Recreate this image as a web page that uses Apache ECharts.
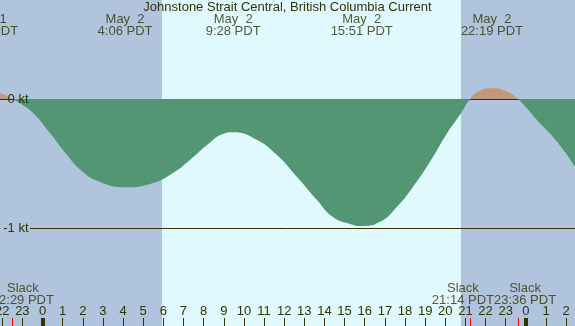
<!DOCTYPE html>
<html>
<head>
<meta charset="utf-8">
<script src="https://cdn.jsdelivr.net/npm/echarts@6/dist/echarts.min.js"></script>
<style>
html,body{margin:0;padding:0;background:#e0f8ff;}
#c{width:575px;height:326px;}
</style>
</head>
<body>
<div id="c"></div>
<script>
// ---- data (hours from May 2 00:00 PDT, current in knots) ----
const hours  = [-3.52, -2.75, -2.11, -1.50, -1.12, -0.47, 0.37, 1.22, 2.01, 2.86, 4.10, 5.34, 6.48, 7.32, 8.17, 8.96, 9.47, 10.65, 11.64, 12.64, 13.63, 14.42, 15.27, 15.85, 16.76, 17.60, 18.39, 19.24, 20.08, 20.78, 21.23, 21.72, 22.32, 22.96, 23.60, 24.08, 24.55, 25.55, 26.44];
const speeds = [0, 0.065, 0.046, 0, -0.033, -0.108, -0.263, -0.433, -0.565, -0.642, -0.683, -0.657, -0.572, -0.472, -0.356, -0.271, -0.258, -0.317, -0.433, -0.603, -0.781, -0.912, -0.966, -0.982, -0.95, -0.833, -0.68, -0.485, -0.266, -0.110, 0, 0.064, 0.083, 0.064, 0, -0.078, -0.162, -0.330, -0.523];

const eventTimes = [-2.75, 4.1, 9.4667, 15.85, 22.3167];
const eventDates = ['May  1', 'May  2', 'May  2', 'May  2', 'May  2'];
const eventClock = ['21:15 PDT', '4:06 PDT', '9:28 PDT', '15:51 PDT', '22:19 PDT'];

const slackTimes = [-3.5167, -1.5167, 21.2333, 23.6];
const slackClock = ['20:29 PDT', '22:29 PDT', '21:14 PDT', '23:36 PDT'];

const sunrise = 5.93;
const sunset = 20.78;

const hourTicks = [];
for (let h = -2; h <= 26; h++) hourTicks.push(h);
const midnightTicks = [0, 24];
const levelLines = [0, -1];
const levelLabels = ['0 kt', '-1 kt'];

// ---- view ----
const X_MIN = -2.11, X_MAX = 26.44;
const Y_MIN = -1.7556, Y_MAX = 0.7657;

const INK = '#333300';
const DAY = '#e0f8ff';
const NIGHT = '#b0c4de';
const EBB = '#529673';
const FLOOD = '#c19878';
const FONT = '"Liberation Sans", Arial, sans-serif';

const chart = echarts.init(document.getElementById('c'), null, {renderer: 'canvas'});

function baseX(extra) {
  return Object.assign({
    type: 'value', min: X_MIN, max: X_MAX, position: 'bottom',
    axisLine: {show: false, onZero: false}, splitLine: {show: false}, axisLabel: {show: false}, z: 5
  }, extra);
}

const labelStyle = {show: true, color: INK, fontFamily: FONT, fontSize: 13, lineHeight: 12, align: 'center'};

const option = {
  backgroundColor: DAY,
  animation: false,
  title: {
    text: 'Johnstone Strait Central, British Columbia Current',
    left: 'center', top: 1, padding: 0,
    textStyle: {color: INK, fontFamily: FONT, fontSize: 13, fontWeight: 'normal', lineHeight: 13}
  },
  grid: {left: 0, right: 0, top: 0, bottom: 0, containLabel: false, outerBoundsMode: 'none'},
  visualMap: {
    type: 'piecewise', show: false, dimension: 1, seriesIndex: 0,
    pieces: [{gte: -10, lt: 0, color: EBB}, {gte: 0, lte: 10, color: FLOOD}]
  },
  xAxis: [
    baseX({
      axisTick: {show: true, inside: true, length: 8, customValues: hourTicks, lineStyle: {color: INK, width: 1}},
      axisLabel: {show: true, inside: true, margin: 8, customValues: hourTicks,
        alignMinLabel: 'center', alignMaxLabel: 'center',
        formatter: v => String(((Math.round(v) % 24) + 24) % 24),
        color: INK, fontFamily: FONT, fontSize: 13, lineHeight: 13}
    }),
    baseX({axisTick: {show: true, inside: true, length: 8, customValues: midnightTicks, lineStyle: {color: INK, width: 4}}}),
    baseX({axisTick: {show: true, inside: true, length: 8, customValues: slackTimes, lineStyle: {color: '#ff0000', width: 1}}})
  ],
  yAxis: {
    type: 'value', min: Y_MIN, max: Y_MAX,
    axisLine: {show: false, onZero: false}, axisTick: {show: false}, splitLine: {show: false},
    z: 5,
    axisLabel: {
      inside: true, margin: 30, align: 'right', customValues: levelLines,
      formatter: v => { const i = levelLines.indexOf(Math.round(v)); return '{' + (i === 1 ? 'n' : 'z') + '|' + levelLabels[i] + '}'; },
      rich: {
        n: {backgroundColor: NIGHT, padding: [1, 1.5, 1, 3], color: INK, fontFamily: FONT, fontSize: 13},
        z: {padding: [0, 1.5, 0, 0], color: INK, fontFamily: FONT, fontSize: 13}
      }
    }
  },
  series: [
    {
      type: 'line', xAxisIndex: 0, yAxisIndex: 0, z: 3, silent: true,
      data: hours.map((h, i) => [h, speeds[i]]),
      smooth: 0.5, symbol: 'none', showSymbol: false,
      lineStyle: {width: 0, opacity: 0},
      areaStyle: {opacity: 1, origin: 'auto'},
      markArea: {
        silent: true, z: 1,
        itemStyle: {color: NIGHT},
        data: [[{xAxis: X_MIN}, {xAxis: sunrise}], [{xAxis: sunset}, {xAxis: X_MAX}]]
      },
      markLine: {
        silent: true, z: 2, symbol: 'none', label: {show: false},
        lineStyle: {color: INK, width: 1, type: 'solid'},
        data: levelLines.map(v => ({yAxis: v}))
      }
    },
    {
      type: 'scatter', clip: false, silent: true, z: 6,
      symbol: 'circle', symbolSize: 1, itemStyle: {color: 'transparent'},
      data: eventTimes.map((t, i) => ({value: [t, Y_MAX], label: {formatter: eventDates[i] + '\n' + eventClock[i]}})),
      label: Object.assign({position: 'bottom', distance: 13}, labelStyle)
    },
    {
      type: 'scatter', clip: false, silent: true, z: 6,
      symbol: 'circle', symbolSize: 1, itemStyle: {color: 'transparent'},
      data: slackTimes.map((t, i) => ({value: [t, Y_MIN], label: {formatter: 'Slack\n' + slackClock[i]}})),
      label: Object.assign({position: 'top', distance: 19}, labelStyle)
    }
  ]
};
chart.setOption(option);

// push overlapping slack labels apart (as the original does)
const ctx = document.createElement('canvas').getContext('2d');
ctx.font = '13px ' + FONT;
const widths = slackClock.map(s => Math.max(ctx.measureText(s).width, ctx.measureText('Slack').width));
const px = slackTimes.map(t => chart.convertToPixel({xAxisIndex: 0}, t));
const pos = px.slice();
for (let k = 0; k < 30; k++) {
  for (let i = 0; i < pos.length - 1; i++) {
    const need = (widths[i] + widths[i + 1]) / 2;
    const d = pos[i + 1] - pos[i];
    if (d < need) { const s = (need - d) / 2; pos[i] -= s; pos[i + 1] += s; }
  }
}
chart.setOption({
  series: [{}, {}, {
    data: slackTimes.map((t, i) => ({value: [t, Y_MIN], label: {formatter: 'Slack\n' + slackClock[i], offset: [pos[i] - px[i], 0]}}))
  }]
});
</script>
</body>
</html>
